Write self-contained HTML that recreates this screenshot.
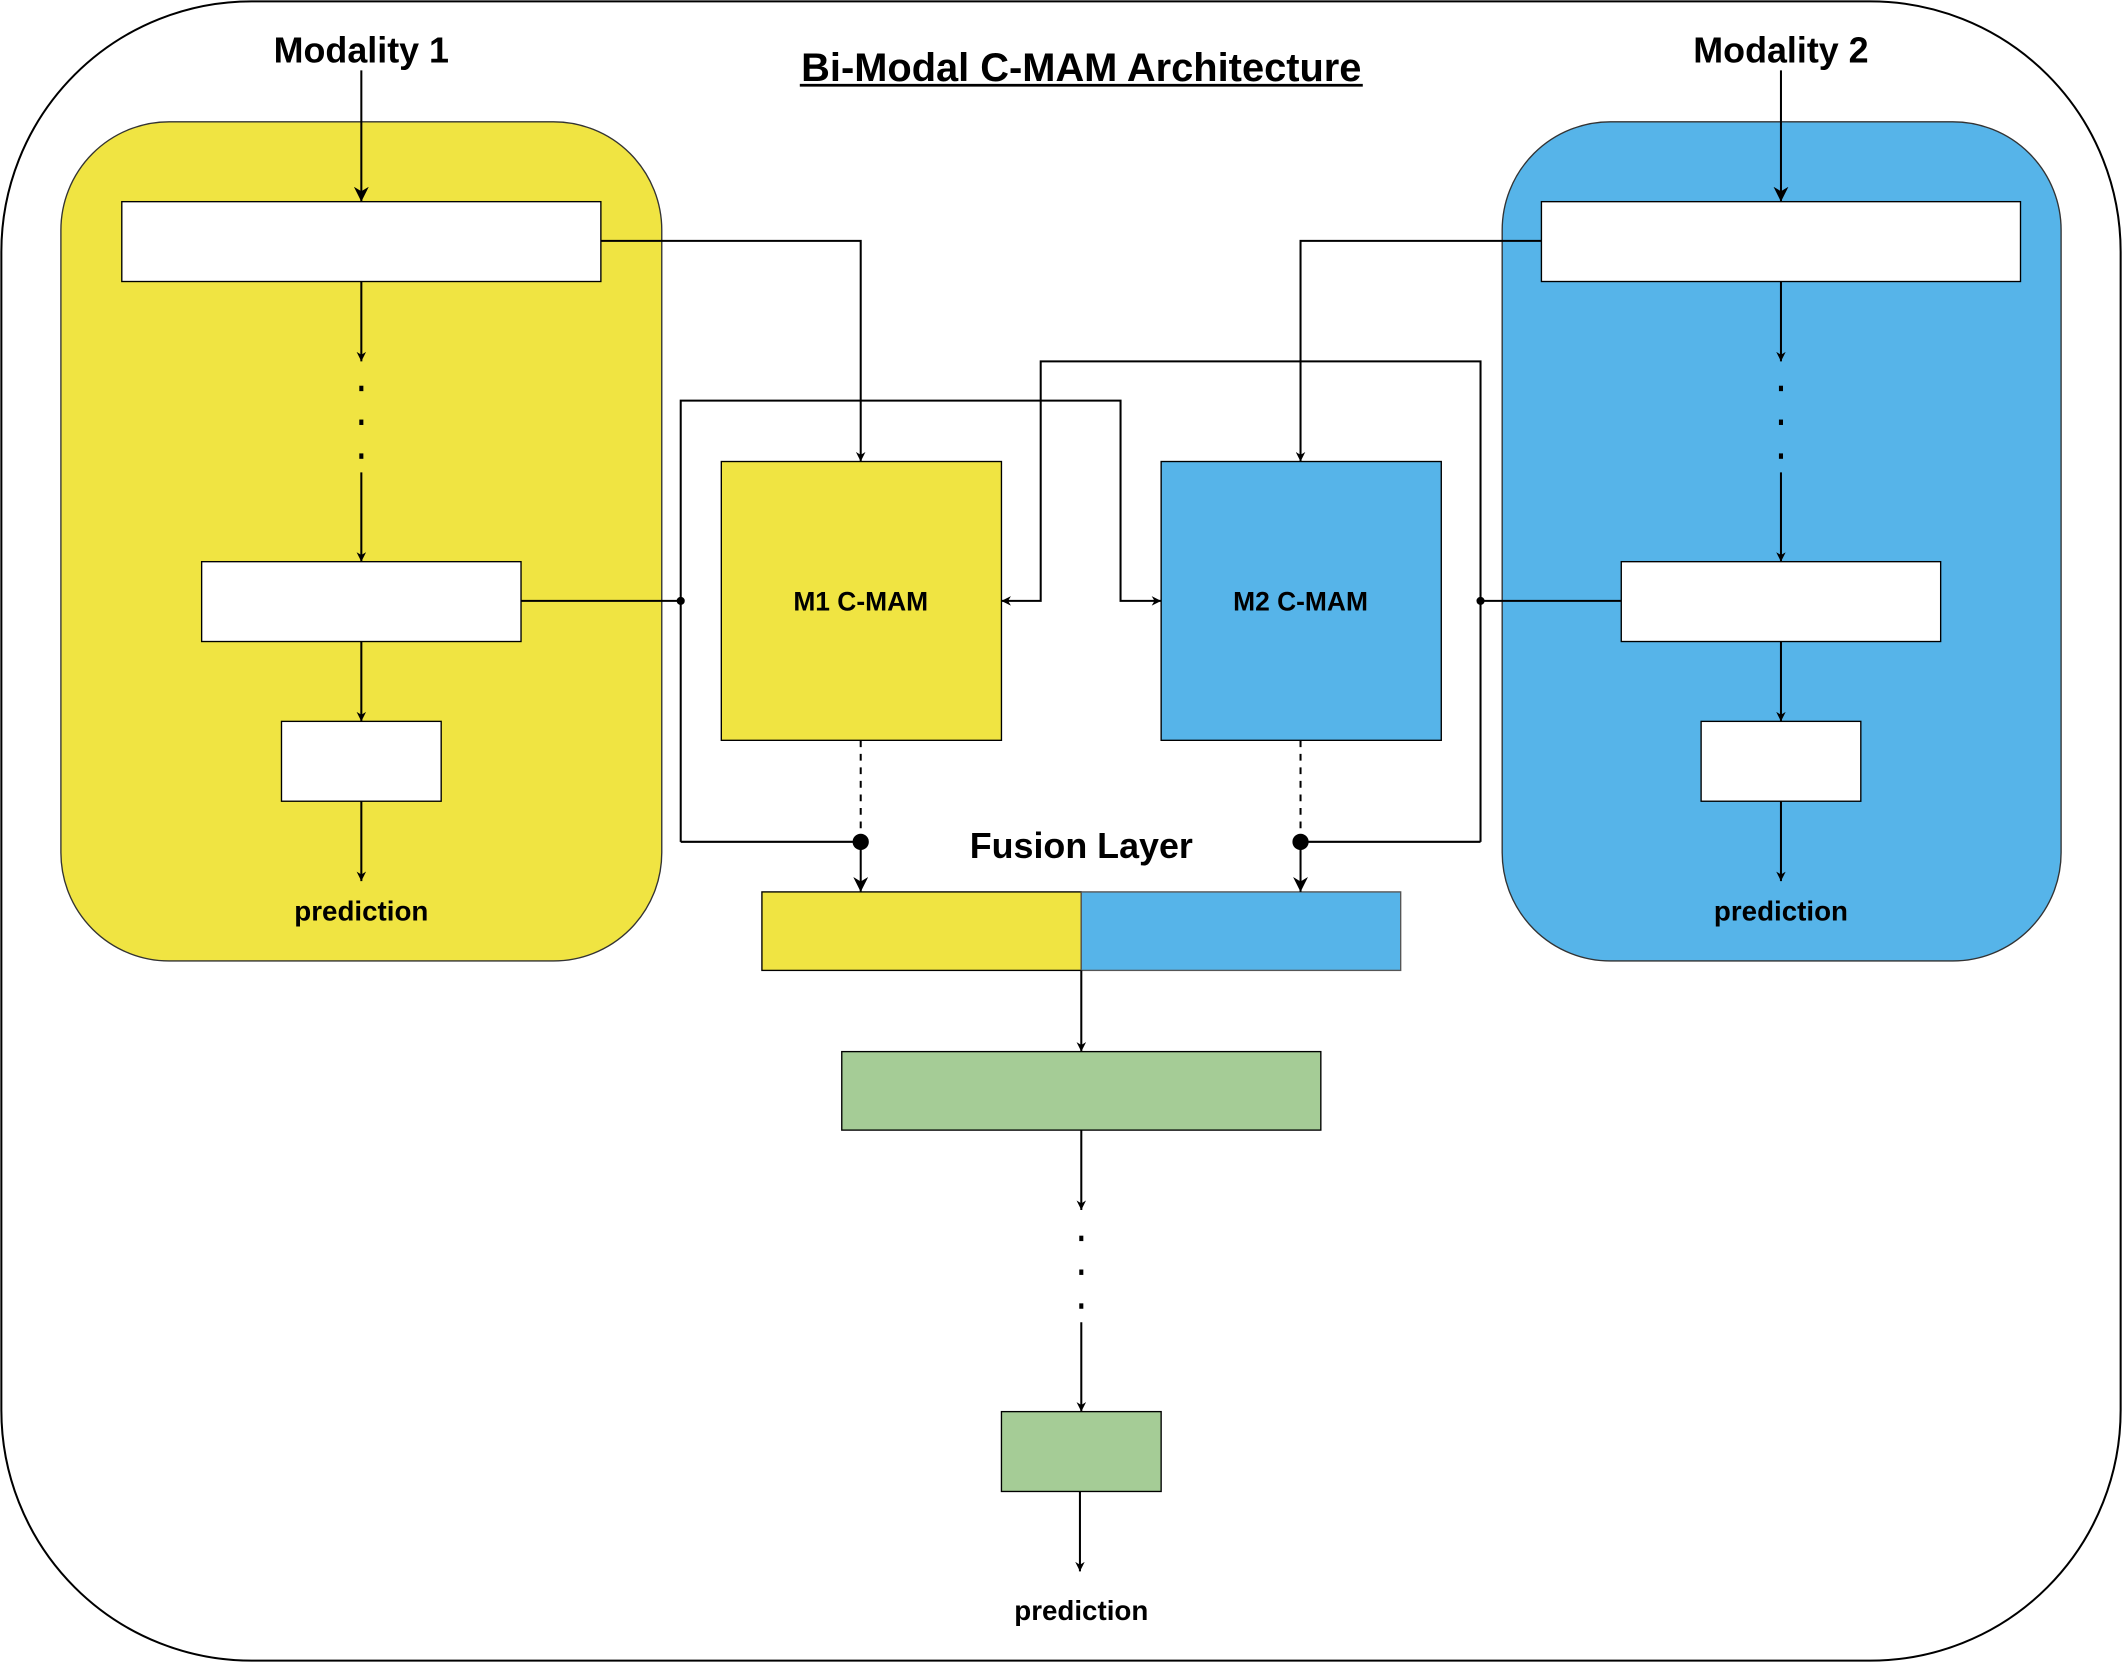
<!DOCTYPE html>
<html><head><meta charset="utf-8"><style>
html,body{margin:0;padding:0;background:#fff;}
svg{display:block;}
text{font-family:"Liberation Sans",Arial,sans-serif;font-weight:bold;fill:#000;}
</style></head><body>
<svg width="2122" height="1662" viewBox="0 0 1568 1228" preserveAspectRatio="none" xmlns="http://www.w3.org/2000/svg">
<defs>
<marker id="a" viewBox="0 0 10 10" refX="10" refY="5" markerWidth="7" markerHeight="7" orient="auto" markerUnits="userSpaceOnUse"><path d="M0,0 L10,5 L0,10 L3,5 z" fill="#000"/></marker>
<marker id="b" viewBox="0 0 10 10" refX="10" refY="5" markerWidth="11" markerHeight="11" orient="auto" markerUnits="userSpaceOnUse"><path d="M0,0 L10,5 L0,10 L3,5 z" fill="#000"/></marker>
</defs>
<rect x="1" y="1" width="1566" height="1226" rx="185" fill="#fff" stroke="#000" stroke-width="1.5"/>
<text x="799" y="60" font-size="29.5" text-anchor="middle" textLength="414" lengthAdjust="spacingAndGlyphs">Bi-Modal C-MAM Architecture</text>
<line x1="591" y1="63" x2="1007" y2="63" stroke="#000" stroke-width="2"/>
<text x="267" y="46" font-size="26.5" text-anchor="middle">Modality 1</text>
<text x="1316" y="46" font-size="26.5" text-anchor="middle">Modality 2</text>

<rect x="45" y="90" width="444" height="620" rx="80" fill="#f0e442" stroke="#333" stroke-width="1"/>
<rect x="1110" y="90" width="413" height="620" rx="80" fill="#56b4e9" stroke="#333" stroke-width="1"/>

<g fill="#fff" stroke="#000" stroke-width="1">
<rect x="90" y="149" width="354" height="59"/><rect x="149" y="415" width="236" height="59"/><rect x="208" y="533" width="118" height="59"/>
<rect x="1139" y="149" width="354" height="59"/><rect x="1198" y="415" width="236" height="59"/><rect x="1257" y="533" width="118" height="59"/>
</g>
<rect x="533" y="341" width="207" height="206" fill="#f0e442" stroke="#000"/>
<rect x="858" y="341" width="207" height="206" fill="#56b4e9" stroke="#000"/>
<text x="636" y="451" font-size="19.5" text-anchor="middle">M1 C-MAM</text>
<text x="961" y="451" font-size="19.5" text-anchor="middle">M2 C-MAM</text>

<rect x="563" y="659" width="236" height="58" fill="#f0e442" stroke="#000"/>
<rect x="799" y="659" width="236" height="58" fill="#56b4e9" stroke="#555"/>
<rect x="622" y="777" width="354" height="58" fill="#a5cc96" stroke="#000"/>
<rect x="740" y="1043" width="118" height="59" fill="#a5cc96" stroke="#000"/>

<text x="799" y="634" font-size="26.5" text-anchor="middle">Fusion Layer</text>
<text x="267" y="680" font-size="20.5" text-anchor="middle">prediction</text>
<text x="1316" y="680" font-size="20.5" text-anchor="middle">prediction</text>
<text x="799" y="1197" font-size="20.5" text-anchor="middle">prediction</text>

<g stroke="#000" stroke-width="1.5" fill="none">
<line x1="267" y1="52" x2="267" y2="149" marker-end="url(#b)"/>
<line x1="1316" y1="52" x2="1316" y2="149" marker-end="url(#b)"/>
<line x1="267" y1="208" x2="267" y2="267" marker-end="url(#a)"/>
<line x1="267" y1="349" x2="267" y2="415" marker-end="url(#a)"/>
<line x1="267" y1="474" x2="267" y2="533" marker-end="url(#a)"/>
<line x1="267" y1="592" x2="267" y2="651" marker-end="url(#a)"/>
<line x1="1316" y1="208" x2="1316" y2="267" marker-end="url(#a)"/>
<line x1="1316" y1="349" x2="1316" y2="415" marker-end="url(#a)"/>
<line x1="1316" y1="474" x2="1316" y2="533" marker-end="url(#a)"/>
<line x1="1316" y1="592" x2="1316" y2="651" marker-end="url(#a)"/>
<polyline points="444,178 636,178 636,341" marker-end="url(#a)"/>
<polyline points="1139,178 961,178 961,341" marker-end="url(#a)"/>
<line x1="385" y1="444" x2="503" y2="444"/>
<polyline points="503,622 503,296 828,296 828,444 858,444" marker-end="url(#a)"/>
<line x1="503" y1="622" x2="636" y2="622"/>
<line x1="1198" y1="444" x2="1094" y2="444"/>
<polyline points="1094,622 1094,267 769,267 769,444 740,444" marker-end="url(#a)"/>
<line x1="1094" y1="622" x2="961" y2="622"/>
<line x1="636" y1="547" x2="636" y2="622" stroke-dasharray="5,5"/>
<line x1="961" y1="547" x2="961" y2="622" stroke-dasharray="5,5"/>
<line x1="636" y1="622" x2="636" y2="659" marker-end="url(#b)"/>
<line x1="961" y1="622" x2="961" y2="659" marker-end="url(#b)"/>
<line x1="799" y1="717" x2="799" y2="777" marker-end="url(#a)"/>
<line x1="799" y1="835" x2="799" y2="894" marker-end="url(#a)"/>
<line x1="799" y1="977" x2="799" y2="1043" marker-end="url(#a)"/>
<line x1="798" y1="1102" x2="798" y2="1161" marker-end="url(#a)"/>
</g>
<g fill="#000">
<circle cx="503" cy="444" r="3"/><circle cx="1094" cy="444" r="3"/>
<circle cx="636" cy="622" r="6"/><circle cx="961" cy="622" r="6"/>
<rect x="265.5" y="285" width="3" height="4"/><rect x="265.5" y="310" width="3" height="4"/><rect x="265.5" y="335" width="3" height="4"/>
<rect x="1314.5" y="285" width="3" height="4"/><rect x="1314.5" y="310" width="3" height="4"/><rect x="1314.5" y="335" width="3" height="4"/>
<rect x="797.5" y="913" width="3" height="4"/><rect x="797.5" y="938" width="3" height="4"/><rect x="797.5" y="963" width="3" height="4"/>
</g>
</svg>
</body></html>
